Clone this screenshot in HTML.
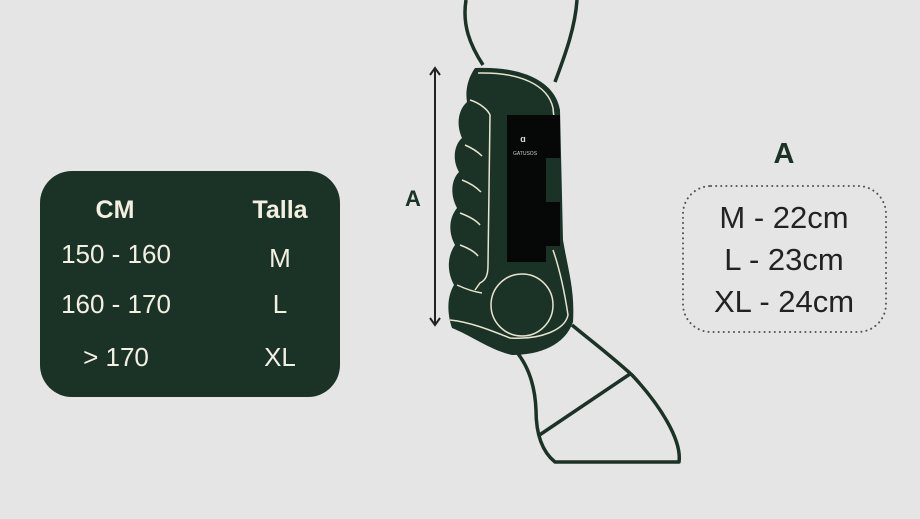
<!DOCTYPE html>
<html><head><meta charset="utf-8"><style>
html,body{margin:0;padding:0;background:#e5e5e5;}
svg{display:block}
text{font-family:"Liberation Sans",sans-serif}
</style></head><body>
<svg width="920" height="519" viewBox="0 0 920 519">
<rect width="920" height="519" fill="#e5e5e5"/>
<rect x="40" y="171" width="300" height="226" rx="32" fill="#1b3326"/>
<g fill="#f3f0e2" text-anchor="middle">
<text x="115" y="218" font-size="25" font-weight="bold">CM</text>
<text x="280" y="218" font-size="25" font-weight="bold">Talla</text>
<text x="116" y="263" font-size="26">150 - 160</text>
<text x="280" y="267" font-size="26">M</text>
<text x="116" y="313" font-size="26">160 - 170</text>
<text x="280" y="313" font-size="26">L</text>
<text x="116" y="366" font-size="26">&gt; 170</text>
<text x="280" y="366" font-size="26">XL</text>
</g>
<text x="784" y="163" font-size="29" font-weight="bold" fill="#1b3326" text-anchor="middle">A</text>
<rect x="683" y="186" width="203" height="146" rx="28" fill="none" stroke="#555" stroke-width="2" stroke-dasharray="0.1 5" stroke-linecap="round"/>
<g fill="#222" text-anchor="middle" font-size="31">
<text x="784" y="228">M - 22cm</text>
<text x="784" y="270">L - 23cm</text>
<text x="784" y="312">XL - 24cm</text>
</g>
<line x1="435" y1="70" x2="435" y2="323" stroke="#222" stroke-width="2"/>
<path d="M430 75 L435 68 L440 75 M430 318 L435 325 L440 318" fill="none" stroke="#222" stroke-width="2"/>
<text x="413" y="206" font-size="22" font-weight="bold" fill="#1b3326" text-anchor="middle">A</text>
<g fill="none" stroke="#1b3326" stroke-width="3.5" stroke-linejoin="round">
<path d="M466 0 C462 25 470 45 483 65"/>
<path d="M577 0 C575 30 563 60 555 82"/>
<path d="M515 350 C528 365 535 385 536 410 C536 430 540 450 555 462 L679 462 C682 440 660 405 632 375 C610 355 590 340 572 325"/>
<path d="M538 436 L630 374"/>
</g>
<path d="M475 68 C520 66 555 80 560 110 L563 240 C568 270 575 290 573 322 C565 345 540 355 512 355 C490 350 470 335 452 328 C446 310 448 295 454 285 C446 270 448 255 455 245 C448 232 449 218 457 208 C450 195 451 180 459 172 C452 160 454 145 462 138 C456 125 458 110 467 102 C465 90 468 78 475 68 Z" fill="#1b3326"/>
<g fill="none" stroke="#e8e4cf" stroke-width="1.5">
<path d="M478 73 C520 72 548 85 553 108 L554 118"/>
<path d="M470 100 C480 103 488 110 490 115 L488 265 C488 275 486 280 480 283 L475 290"/>
<path d="M450 320 C470 322 490 330 510 338 C540 340 565 330 568 315 C565 295 560 270 553 250"/>
<path d="M465 145 C472 148 478 152 482 156 M462 180 C470 183 477 188 481 192 M460 213 C468 216 476 220 480 225 M460 245 C468 248 475 252 478 256 M457 285 C468 290 475 292 482 293"/>
</g>
<circle cx="522" cy="305" r="31" fill="none" stroke="#e8e4cf" stroke-width="1.5"/>
<path d="M507 115 L560 115 L560 158 L546 158 L546 202 L560 202 L560 246 L546 246 L546 262 L507 262 Z" fill="#050807"/>
<text x="523" y="142" font-size="9" fill="#ddd" text-anchor="middle" font-weight="bold">ɑ</text>
<text x="525" y="155" font-size="5" fill="#ccc" text-anchor="middle">GATUSOS</text>
</svg>
</body></html>
